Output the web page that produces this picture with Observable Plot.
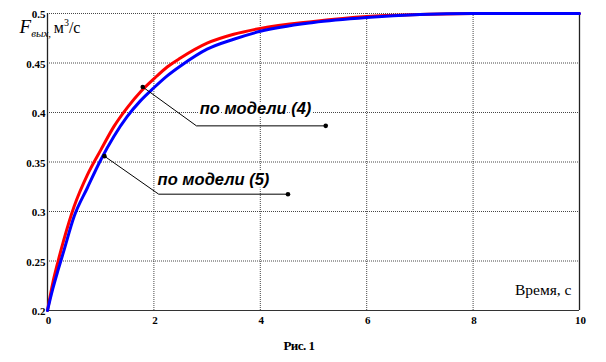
<!DOCTYPE html>
<html><head><meta charset="utf-8">
<script src="https://cdn.jsdelivr.net/npm/d3@7"></script>
<script src="https://cdn.jsdelivr.net/npm/@observablehq/plot@0.6"></script>
<style>
body{margin:0;background:#fff;}
#cap{width:598px;text-align:center;font:bold 13px "Liberation Serif",serif;line-height:22px;letter-spacing:-0.5px;}
</style>
</head><body>
<div id="chart"></div>
<div id="cap">Рис. 1</div>
<script>
// time, s
const time   = [0, 0.1, 0.2, 0.3, 0.5, 0.75, 1.0, 1.25, 1.5, 1.75, 2.0, 2.25, 2.5, 3.0, 3.5, 4.0, 5.0, 6.0, 7.0, 8.0, 9.0, 10.0];
// F_вых by model (4) - red
const model4 = [0.2, 0.228, 0.250, 0.270, 0.305, 0.337, 0.362, 0.386, 0.405, 0.421, 0.434, 0.446, 0.455, 0.470, 0.479, 0.485, 0.492, 0.497, 0.499, 0.5, 0.5, 0.5];
// F_вых by model (5) - blue
const model5 = [0.2, 0.222, 0.241, 0.259, 0.295, 0.324, 0.352, 0.376, 0.396, 0.412, 0.425, 0.437, 0.447, 0.464, 0.474, 0.482, 0.491, 0.496, 0.499, 0.5, 0.5, 0.5];

const xTicks = [0, 2, 4, 6, 8, 10];
const yTicks = [0.2, 0.25, 0.3, 0.35, 0.4, 0.45, 0.5];

// annotations: label, text anchor, leader (dot on curve -> elbow -> end)
const annLabels = ["по модели (4)", "по модели (5)"];
const annTextX  = [2.86, 2.07];
const annTextY  = [0.4035, 0.3325];
const leaderT   = [[1.79, 2.80, 5.23], [1.07, 2.09, 4.52]];
const leaderF   = [[0.4258, 0.3865, 0.3865], [0.3559, 0.3175, 0.3175]];

const xLabel = "Время, с";
const capText = "Рис. 1";

const series = [
  ...time.map((t, i) => ({t, f: model4[i], s: "4"})),
  ...time.map((t, i) => ({t, f: model5[i], s: "5"}))
];
const leaders = leaderT.flatMap((ts, k) => ts.map((t, j) => ({t, f: leaderF[k][j], k})));
const leaderDots = leaders.filter((d, i) => i % 3 !== 1);
const anns = annLabels.map((text, k) => ({text, t: annTextX[k], f: annTextY[k]}));

const grid = {stroke: "#333", strokeWidth: 1, strokeDasharray: "1,1", strokeOpacity: 0.9};

const plot = Plot.plot({
  width: 606,
  height: 335,
  marginTop: 13,
  marginBottom: 25,
  marginLeft: 47,
  marginRight: 27,
  style: {fontFamily: "Liberation Serif, serif", background: "#fff", overflow: "visible"},
  x: {domain: [0, 10], ticks: xTicks, tickFormat: d => String(d), label: null},
  y: {domain: [0.2, 0.5], ticks: yTicks, tickFormat: d => String(d), label: null},
  marks: [
    Plot.ruleX(xTicks, grid),
    Plot.ruleY(yTicks, grid),
    Plot.ruleX([0, 10], {stroke: "#222", strokeWidth: 1.3}),
    Plot.ruleY([0.2], {stroke: "#333", strokeWidth: 1.2}),
    Plot.line(series.filter(d => d.s === "4"), {x: "t", y: "f", stroke: "#ff0000", strokeWidth: 3, curve: "monotone-x"}),
    Plot.line(series.filter(d => d.s === "5"), {x: "t", y: "f", stroke: "#0000ff", strokeWidth: 3, curve: "monotone-x"}),
    Plot.line(leaders, {x: "t", y: "f", z: "k", stroke: "#000", strokeWidth: 1}),
    Plot.dot(leaderDots, {x: "t", y: "f", r: 2.3, fill: "#000"}),
    Plot.text(anns, {x: "t", y: "f", text: "text", textAnchor: "start", fontFamily: "Liberation Sans, Arial, sans-serif", fontStyle: "italic", fontWeight: "bold", fontSize: 16.5, fill: "#000", stroke: "#fff", strokeWidth: 4}),
    Plot.text([xLabel], {frameAnchor: "bottom-right", dx: -8, dy: -16, textAnchor: "end", fontSize: 15.5, fontFamily: "Liberation Serif, serif", fill: "#000"}),
    Plot.axisX({ticks: xTicks, tickFormat: d => String(d), tickSize: 0, tickPadding: 6, fontSize: 11, fontWeight: "bold", fontFamily: "Liberation Serif, serif", dx: 1, label: null}),
    Plot.axisY({ticks: yTicks, tickFormat: d => String(d), tickSize: 0, tickPadding: 2, fontSize: 11, fontWeight: "bold", fontFamily: "Liberation Serif, serif", dy: 1, label: null})
  ]
});

// axis title F_вых, м³/с
const svg = d3.select(plot);
const x0 = plot.scale("x").apply(0);
const yTop = plot.scale("y").apply(0.5);
const title = svg.append("text")
  .attr("x", x0 + 3).attr("y", yTop + 20)
  .attr("font-family", "Liberation Serif, serif")
  .attr("fill", "#000");
title.append("tspan").attr("font-size", 19).attr("font-style", "italic").text("F");
title.append("tspan").attr("font-size", 11).attr("font-style", "italic").attr("dy", 4).text("вых");
title.append("tspan").attr("font-size", 11).text(", ");
title.append("tspan").attr("font-size", 16).attr("dy", -4).text("м");
title.append("tspan").attr("font-size", 10).attr("dy", -7).text("3");
title.append("tspan").attr("font-size", 16).attr("dy", 7).text("/с");

document.getElementById("chart").appendChild(plot);
document.getElementById("cap").textContent = capText;
</script>
</body></html>
